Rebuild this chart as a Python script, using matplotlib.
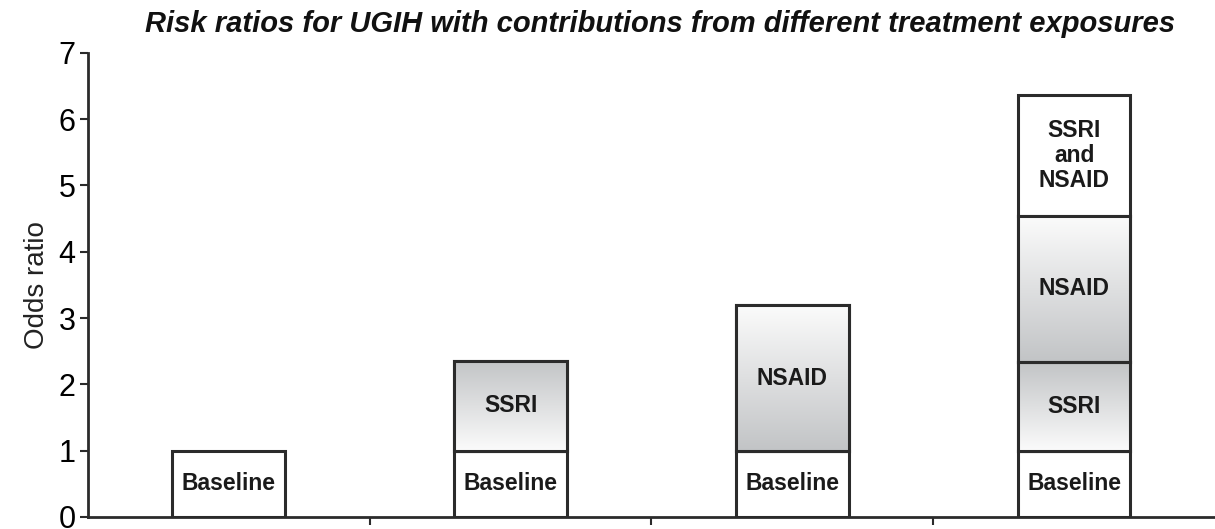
import numpy as np
import matplotlib.pyplot as plt
from matplotlib.colors import LinearSegmentedColormap

# data
groups = ["Baseline", "SSRI", "NSAID", "SSRI and NSAID"]
segment_labels = [
    ["Baseline"],
    ["Baseline", "SSRI"],
    ["Baseline", "NSAID"],
    ["Baseline", "SSRI", "NSAID", "SSRI\nand\nNSAID"],
]
# cumulative tops of each segment (odds ratio)
segment_tops = [
    [1.0],
    [1.0, 2.36],
    [1.0, 3.19],
    [1.0, 2.34, 4.54, 6.37],
]

# fill per segment type: None = white, otherwise gradient direction
fill_kind = {"Baseline": None, "SSRI": "dark_top", "NSAID": "light_top",
             "SSRI\nand\nNSAID": None}

edge = "#2b2b2b"
grad = LinearSegmentedColormap.from_list("g", ["#fbfbfb", "#c2c4c6"])
font = ["Liberation Sans", "DejaVu Sans"]

fig = plt.figure(figsize=(12.15, 5.29), dpi=100)
ax = fig.add_axes([0.0724, 0.0227, 0.9276, 0.8773])

bar_w = 0.4
for i, (labs, tops) in enumerate(zip(segment_labels, segment_tops)):
    bottom = 0.0
    for lab, top in zip(labs, tops):
        h = top - bottom
        kind = fill_kind[lab]
        rect = ax.bar(i, h, bottom=bottom, width=bar_w, color="white",
                      edgecolor=edge, linewidth=2.2, zorder=2)[0]
        if kind is not None:
            # origin lower: first row at the bottom
            g = np.linspace(0, 1, 256).reshape(-1, 1)
            if kind == "light_top":
                g = g[::-1]
            img = ax.imshow(g, cmap=grad, aspect="auto", origin="lower",
                            extent=[rect.get_x(), rect.get_x() + rect.get_width(),
                                    rect.get_y(), rect.get_y() + rect.get_height()],
                            zorder=2.5)
            img.set_clip_path(rect)
            ax.bar(i, h, bottom=bottom, width=bar_w, color="none",
                   edgecolor=edge, linewidth=2.2, zorder=3)
        ax.text(i, bottom + h / 2, lab, ha="center", va="center", fontsize=16.5,
                fontweight="bold", family=font,
                color="#1a1a1a", linespacing=1.1, zorder=4)
        bottom = top

ax.set_xlim(-0.5, 3.5)
ax.set_ylim(0, 7)
ax.set_yticks(range(0, 8))
ax.set_xticks([0.5, 1.5, 2.5])
ax.set_xticklabels([])
ax.tick_params(axis="y", labelsize=22, length=6, width=1.5, color=edge, pad=3)
ax.tick_params(axis="x", length=6, width=1.5, color=edge)
for lab in ax.get_yticklabels():
    lab.set_family(font)
for s in ["top", "right"]:
    ax.spines[s].set_visible(False)
for s in ["left", "bottom"]:
    ax.spines[s].set_linewidth(2)
    ax.spines[s].set_color(edge)

ax.set_ylabel("Odds ratio", fontsize=20, family=font, labelpad=6, color="#222222")
fig.text(0.543, 0.955, "Risk ratios for UGIH with contributions from different treatment exposures",
         ha="center", va="center", fontsize=21, fontweight="bold", style="italic",
         family=font, color="#111111")

fig.savefig("out.png", dpi=100)
